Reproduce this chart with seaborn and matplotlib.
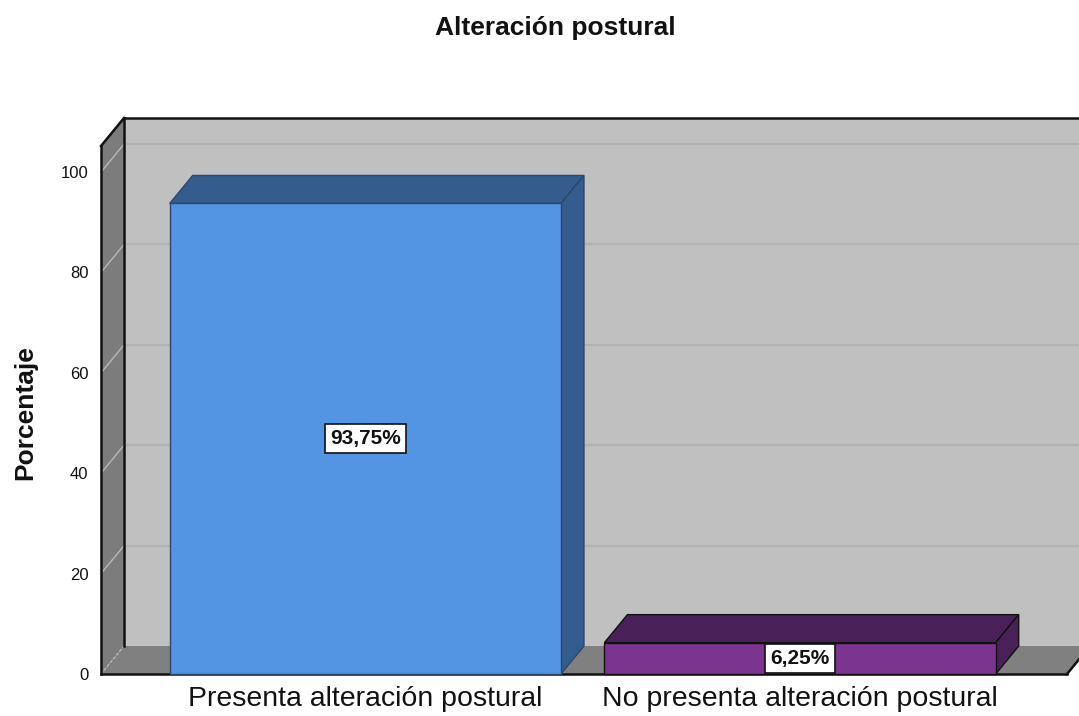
import numpy as np
import pandas as pd
import matplotlib
matplotlib.use("Agg")
import matplotlib.pyplot as plt
from matplotlib import font_manager
from matplotlib.patches import Polygon, Rectangle
import seaborn as sns

# Data
categorias = ["Presenta alteración postural", "No presenta alteración postural"]
porcentajes = [93.75, 6.25]
y_ticks = [0, 20, 40, 60, 80, 100]

# Styling
front_colors = ["#5495e3", "#7b358f"]
shade_colors = ["#345c8d", "#4a2059"]
edge_colors = ["#2c4670", "#111111"]
wall_back = "#c0c0c0"
wall_side = "#7c7c7c"
floor_col = "#808080"

plt.rcParams["font.family"] = ["Liberation Sans", "DejaVu Sans"]

# condensed face for the value labels, when one is installed
_names = {f.name for f in font_manager.fontManager.ttflist}
if "Liberation Sans Narrow" in _names:
    label_family, label_size = ["Liberation Sans Narrow", "Liberation Sans"], 17
else:
    label_family, label_size = ["Liberation Sans", "DejaVu Sans"], 15

W, H, DPI = 1079, 716, 100
fig = plt.figure(figsize=(W / DPI, H / DPI), dpi=DPI)
fig.patch.set_facecolor("white")

# front plane of the 3D box, in pixels
left_px, right_px, bottom_px, top_px = 101, 1067, 674, 146
ax = fig.add_axes([left_px / W, 1 - bottom_px / H,
                   (right_px - left_px) / W, (bottom_px - top_px) / H])
ax.set_facecolor("none")
x0, x1 = -0.608, 1.614
y0, y1 = 0, 105.2
ax.set_xlim(x0, x1)
ax.set_ylim(y0, y1)

# depth offset in data units (23 px right, 28 px up)
ddx = 23 / (right_px - left_px) * (x1 - x0)
ddy = 28 / (bottom_px - top_px) * (y1 - y0)

# back wall, left wall and floor
ax.add_patch(Rectangle((x0 + ddx, ddy), (x1 - x0) + 0.2, y1, facecolor=wall_back,
                       edgecolor="none", zorder=0, clip_on=False))
ax.add_patch(Polygon([(x0, 0), (x0 + ddx, ddy), (x0 + ddx, y1 + ddy), (x0, y1)],
                     closed=True, facecolor=wall_side, edgecolor="none",
                     zorder=1, clip_on=False))
ax.add_patch(Polygon([(x0, 0), (x1, 0), (x1 + ddx, ddy), (x0 + ddx, ddy)],
                     closed=True, facecolor=floor_col, edgecolor="none",
                     zorder=1, clip_on=False))

# grid lines on back and side walls
for t in y_ticks[1:]:
    ax.plot([x0 + ddx, x1 + ddx + 0.2], [t + ddy, t + ddy], color="#b2b2b2",
            lw=1.6, zorder=0.5, clip_on=False, solid_capstyle="butt")
for t in y_ticks:
    ax.plot([x0, x0 + ddx], [t, t + ddy], color="#b8b8b8", lw=1.0,
            ls="-" if t else (0, (2, 1.5)), zorder=1.5, clip_on=False)

# frame edges
edge_kw = dict(color="#111111", lw=1.8, zorder=2, clip_on=False,
               solid_capstyle="projecting")
ax.plot([x0, x0], [0, y1], **edge_kw)
ax.plot([x0, x0 + ddx], [y1, y1 + ddy], **edge_kw)
ax.plot([x0 + ddx, x1 + ddx + 0.2], [y1 + ddy, y1 + ddy], **edge_kw)
ax.plot([x0 + ddx, x0 + ddx], [ddy, y1 + ddy], **edge_kw)
ax.plot([x0, x1], [0, 0], **edge_kw)
ax.plot([x1, x1 + ddx], [0, ddy], **edge_kw)

# bars (front faces)
df = pd.DataFrame({"categoria": categorias, "porcentaje": porcentajes})
sns.barplot(data=df, x="categoria", y="porcentaje", hue="categoria",
            palette=front_colors, saturation=1, width=0.9, legend=False, ax=ax,
            edgecolor="#222222", linewidth=1.0, zorder=4)
ax.set_xlim(x0, x1)
ax.set_ylim(y0, y1)

bars = [b for c in ax.containers for b in c]
bars.sort(key=lambda b: b.get_x())

# top and side faces of each bar, plus value labels
for i, p in enumerate(bars):
    bx, bw, bh = p.get_x(), p.get_width(), p.get_height()
    p.set_edgecolor(edge_colors[i])
    p.set_clip_on(False)
    top = [(bx, bh), (bx + bw, bh), (bx + bw + ddx, bh + ddy), (bx + ddx, bh + ddy)]
    side = [(bx + bw, 0), (bx + bw + ddx, ddy), (bx + bw + ddx, bh + ddy), (bx + bw, bh)]
    for poly in (top, side):
        ax.add_patch(Polygon(poly, closed=True, facecolor=shade_colors[i],
                             edgecolor=edge_colors[i], lw=1.0, zorder=3,
                             clip_on=False))
    etiqueta = f"{porcentajes[i]:.2f}%".replace(".", ",")
    ax.text(bx + bw / 2, bh / 2, etiqueta, ha="center", va="center",
            fontsize=label_size, fontweight="bold", family=label_family,
            color="#111111",
            bbox=dict(boxstyle="square,pad=0.25", facecolor="white",
                      edgecolor="#111111", lw=1.2), zorder=6)

# axes, ticks and labels
for s in ax.spines.values():
    s.set_visible(False)
ax.set_yticks(y_ticks)
ax.set_yticklabels([str(t) for t in y_ticks], fontsize=12, color="#111111")
ax.tick_params(axis="y", length=0, pad=9)
ax.tick_params(axis="x", length=0, pad=9, labelsize=20.5, labelcolor="#111111")
ax.set_xlabel("")
ax.set_ylabel("Porcentaje", fontsize=19, fontweight="bold", color="#111111")
ax.yaxis.set_label_coords(-0.066, 0.496)

fig.text(555 / W, 1 - 35 / H, "Alteración postural", ha="center", va="baseline",
         fontsize=19, fontweight="bold", color="#111111")

fig.savefig("out.png", dpi=DPI)
